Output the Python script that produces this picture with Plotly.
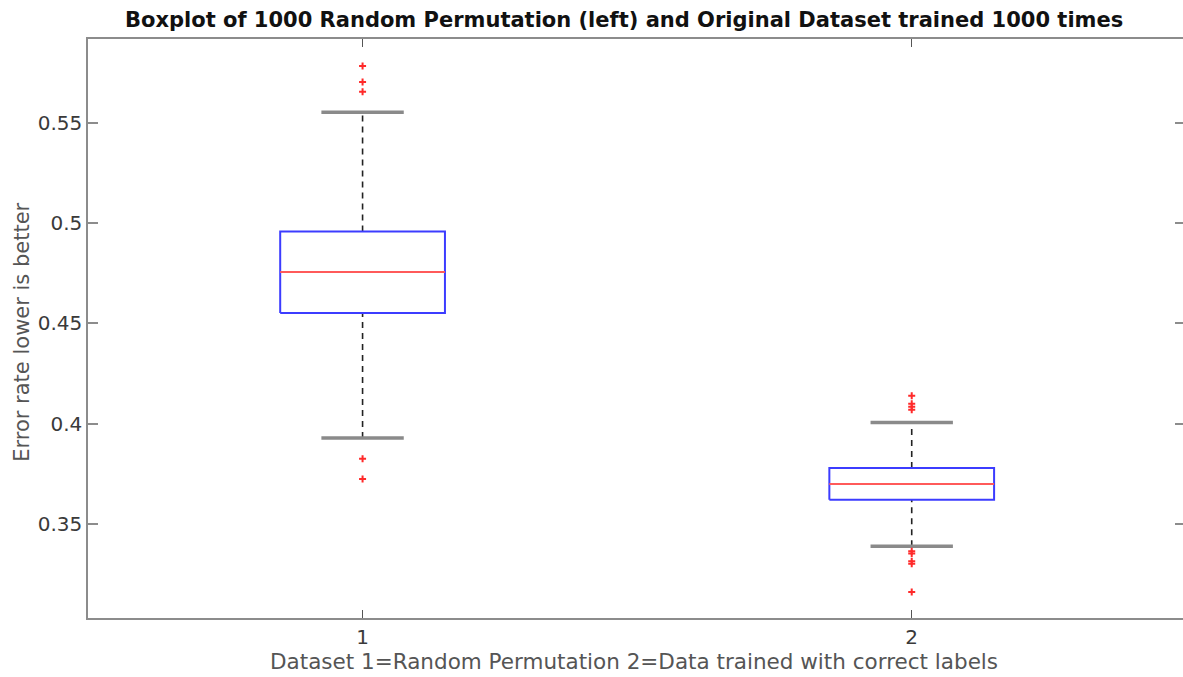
import plotly.graph_objects as go

# Summary statistics of the two error-rate distributions
groups = [1, 2]
q1 = [0.4551, 0.3621]
median = [0.4755, 0.3699]
q3 = [0.4957, 0.3779]
lower_whisker = [0.3928, 0.3389]
upper_whisker = [0.5552, 0.4006]
outliers = [
    [0.5782, 0.5703, 0.5654, 0.3825, 0.3724],
    [0.4139, 0.4099, 0.4084, 0.4069, 0.3364, 0.3352, 0.3314, 0.3302, 0.3161],
]

y_ticks = [0.35, 0.4, 0.45, 0.5, 0.55]
y_ticktext = ["0.35", "0.4", "0.45", "0.5", "0.55"]
x_ticktext = ["1", "2"]

BOX_HALF = 0.15
CAP_HALF = 0.075
FONT = "DejaVu Sans"

fig = go.Figure()

for i, g in enumerate(groups):
    # dashed whiskers
    for a, b in ((q3[i], upper_whisker[i]), (lower_whisker[i], q1[i])):
        fig.add_trace(go.Scatter(
            x=[g, g], y=[a, b], mode="lines",
            line=dict(color="#222222", width=1.6, dash="6px,5px"),
            hoverinfo="skip", showlegend=False))
    # whisker caps
    for w in (upper_whisker[i], lower_whisker[i]):
        fig.add_trace(go.Scatter(
            x=[g - CAP_HALF, g + CAP_HALF], y=[w, w], mode="lines",
            line=dict(color="#8a8a8a", width=3.5),
            hoverinfo="skip", showlegend=False))
    # box
    fig.add_trace(go.Scatter(
        x=[g - BOX_HALF, g + BOX_HALF, g + BOX_HALF, g - BOX_HALF, g - BOX_HALF],
        y=[q1[i], q1[i], q3[i], q3[i], q1[i]], mode="lines",
        line=dict(color="#3c3cff", width=2),
        hoverinfo="skip", showlegend=False))
    # median
    fig.add_trace(go.Scatter(
        x=[g - BOX_HALF, g + BOX_HALF], y=[median[i], median[i]], mode="lines",
        line=dict(color="#ff5a5a", width=2),
        hoverinfo="skip", showlegend=False))
    # outliers
    fig.add_trace(go.Scatter(
        x=[g] * len(outliers[i]), y=outliers[i], mode="markers",
        marker=dict(symbol="cross-thin", size=5, line=dict(color="#ff2a2a", width=2)),
        hoverinfo="skip", showlegend=False))

# invisible trace to activate the right-hand tick axis
fig.add_trace(go.Scatter(x=[1], y=[0.45], yaxis="y2", mode="markers",
                         marker=dict(opacity=0), hoverinfo="skip", showlegend=False))

axis_col = "#8c8c8c"
yrange = [0.3031, 0.5917]

fig.update_layout(
    width=1183, height=677,
    margin=dict(l=88, r=0, t=39, b=59),
    paper_bgcolor="white", plot_bgcolor="white",
    font=dict(family=FONT, size=20, color="#3a3a3a"),
    xaxis=dict(
        range=[0.5, 2.494], tickvals=groups, ticktext=x_ticktext,
        ticks="inside", ticklen=8, tickcolor="#555555", tickwidth=1,
        showline=True, linecolor=axis_col, linewidth=1.5, mirror="ticks",
        showgrid=False, zeroline=False,
        tickfont=dict(size=20, color="#3a3a3a"),
    ),
    yaxis=dict(
        range=yrange, tickvals=y_ticks, ticktext=y_ticktext,
        ticks="inside", ticklen=10, tickcolor=axis_col, tickwidth=1.5,
        showline=True, linecolor=axis_col, linewidth=1.5,
        showgrid=False, zeroline=False,
        tickfont=dict(size=20, color="#3a3a3a"),
    ),
    yaxis2=dict(
        overlaying="y", side="right", range=yrange, tickvals=y_ticks,
        ticks="inside", ticklen=8, tickcolor=axis_col, tickwidth=1.5,
        showticklabels=False, showline=False, showgrid=False, zeroline=False,
    ),
    annotations=[
        dict(text="<b>Boxplot of 1000 Random Permutation (left) and Original Dataset trained 1000 times</b>",
             xref="paper", yref="paper", x=0.4895, y=1, yshift=19,
             xanchor="center", yanchor="middle", showarrow=False,
             font=dict(family=FONT, size=21, color="#111111")),
        dict(text="Dataset 1=Random Permutation 2=Data trained with correct labels",
             xref="paper", yref="paper", x=(634 - 88) / 1095, y=0, yshift=-43,
             xanchor="center", yanchor="middle", showarrow=False,
             font=dict(family=FONT, size=21.5, color="#555555")),
        dict(text="Error rate lower is better", textangle=-90,
             xref="paper", yref="paper", x=0, xshift=-66, y=(618.5 - 333) / 579.5,
             xanchor="center", yanchor="middle", showarrow=False,
             font=dict(family=FONT, size=21, color="#555555")),
    ],
)

fig.write_html("out.html")
